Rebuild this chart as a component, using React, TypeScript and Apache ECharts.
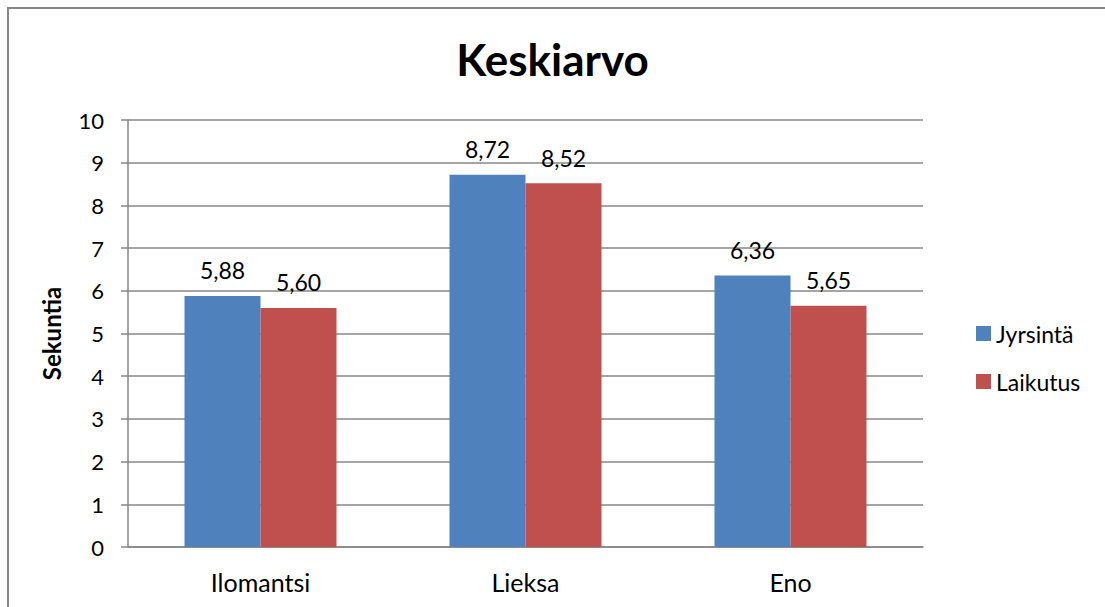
import React, { useEffect, useRef } from "react";
import * as echarts from "echarts";

const categories = ["Ilomantsi", "Lieksa", "Eno"];
const seriesNames = ["Jyrsintä", "Laikutus"];
const jyrsinta = [5.88, 8.72, 6.36];
const laikutus = [5.6, 8.52, 5.65];
const colors = ["#4F81BD", "#C0504D"];
const FONT = "Lato, 'Open Sans', sans-serif";

export default function App() {
  const ref = useRef<HTMLDivElement>(null);
  useEffect(() => {
    if (!ref.current) return;
    const chart = echarts.init(ref.current, undefined, { renderer: "svg" });
    const labelCfg = {
      show: true,
      position: "top",
      distance: 14,
      fontSize: 23,
      color: "#000",
      fontFamily: FONT,
      formatter: (p: any) => Number(p.value).toFixed(2).replace(".", ","),
    };
    chart.setOption({
      animation: false,
      backgroundColor: "#fff",
      title: {
        text: "Keskiarvo",
        left: "center",
        top: 32,
        textStyle: { fontSize: 44, fontWeight: "bold", color: "#000", fontFamily: FONT },
      },
      graphic: [
        {
          type: "rect",
          shape: { x: 8, y: 8, width: 1120, height: 620 },
          style: { fill: "none", stroke: "#878787", lineWidth: 2 },
          silent: true,
        },
      ],
      legend: {
        orient: "vertical",
        left: 971,
        top: 317,
        itemWidth: 15,
        itemHeight: 15,
        itemGap: 25,
        itemTextGap: 4,
        icon: "rect",
        textStyle: { fontSize: 23, color: "#000", fontFamily: FONT },
        data: seriesNames,
      },
      grid: { left: 128, right: 182, top: 120, bottom: 60 },
      xAxis: {
        type: "category",
        data: categories,
        axisLine: { show: true, lineStyle: { color: "#878787", width: 1.5 } },
        axisTick: { show: false },
        axisLabel: { fontSize: 25, color: "#000", fontFamily: FONT, margin: 22 },
      },
      yAxis: {
        type: "value",
        min: 0,
        max: 10,
        interval: 1,
        name: "Sekuntia",
        nameLocation: "middle",
        nameGap: 65,
        nameRotate: 90,
        nameTextStyle: { fontSize: 24, fontWeight: "bold", color: "#000", fontFamily: FONT },
        axisLine: { show: true, lineStyle: { color: "#878787", width: 1.5 } },
        axisTick: { show: true, length: 7, lineStyle: { color: "#878787", width: 1.5 } },
        splitLine: { show: true, lineStyle: { color: "#878787", width: 1.5 } },
        axisLabel: { fontSize: 22, color: "#000", fontFamily: FONT, margin: 24 },
      },
      series: [
        {
          name: seriesNames[0],
          type: "bar",
          data: jyrsinta,
          barWidth: 76,
          barGap: "0%",
          itemStyle: { color: colors[0] },
          label: labelCfg,
        },
        {
          name: seriesNames[1],
          type: "bar",
          data: laikutus,
          barWidth: 76,
          barGap: "0%",
          itemStyle: { color: colors[1] },
          label: labelCfg,
        },
      ],
    });
    return () => chart.dispose();
  }, []);
  return (
    <div
      ref={ref}
      style={{ position: "fixed", left: 0, top: 0, width: 1105, height: 607 }}
    />
  );
}
